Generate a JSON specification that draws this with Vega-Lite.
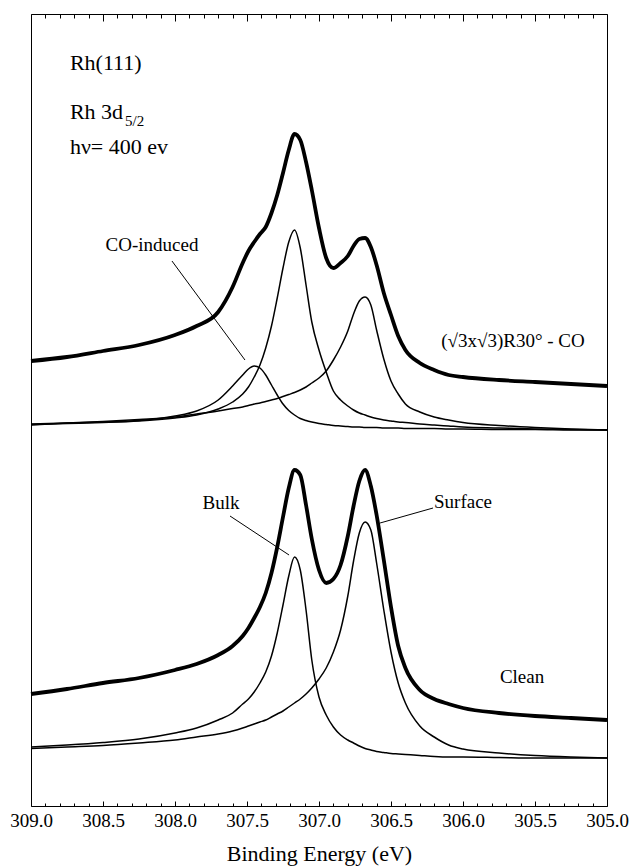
{
  "$schema": "https://vega.github.io/schema/vega-lite/v6.json",
  "width": 576,
  "height": 792,
  "autosize": {"type": "none"},
  "padding": {"left": 31, "top": 14, "right": 23, "bottom": 61},
  "background": "white",
  "config": {"view": {"stroke": "black", "strokeWidth": 1}, "font": "Liberation Serif"},
  "datasets": {
    "spec": [
      {"E":309.0,"coData":436,"coBulk":372.5,"coCO":373,"coSurf":372,"clData":103,"clBulk":50,"clSurf":48.5},
      {"E":308.75,"coData":440,"coBulk":373.5,"coCO":374,"coSurf":374,"clData":108,"clBulk":52,"clSurf":50},
      {"E":308.5,"coData":446,"coBulk":374.5,"coCO":375,"coSurf":375.5,"clData":114,"clBulk":54.5,"clSurf":51.5},
      {"E":308.25,"coData":452,"coBulk":376,"coCO":376.5,"coSurf":377.5,"clData":119,"clBulk":58,"clSurf":54},
      {"E":308.0,"coData":462,"coBulk":379,"coCO":381,"coSurf":380,"clData":127,"clBulk":64,"clSurf":57},
      {"E":307.85,"coData":471,"coBulk":382,"coCO":386,"coSurf":383,"clData":133,"clBulk":69,"clSurf":60},
      {"E":307.7,"coData":485,"coBulk":388,"coCO":397,"coSurf":386,"clData":142,"clBulk":77,"clSurf":63},
      {"E":307.6,"coData":510,"coBulk":395,"coCO":411,"coSurf":388.5,"clData":151,"clBulk":84,"clSurf":66},
      {"E":307.53,"coData":534,"coBulk":403,"coCO":422,"coSurf":390,"clData":161,"clBulk":93,"clSurf":69},
      {"E":307.49,"coData":546,"coBulk":410,"coCO":428,"coSurf":391.5,"clData":169,"clBulk":98,"clSurf":71},
      {"E":307.45,"coData":555,"coBulk":420,"coCO":431,"coSurf":393,"clData":179,"clBulk":105,"clSurf":73},
      {"E":307.41,"coData":563,"coBulk":432,"coCO":429,"coSurf":394,"clData":190,"clBulk":114,"clSurf":75},
      {"E":307.37,"coData":570,"coBulk":449,"coCO":422,"coSurf":395.5,"clData":204,"clBulk":125,"clSurf":77},
      {"E":307.33,"coData":584,"coBulk":471,"coCO":412,"coSurf":397,"clData":224,"clBulk":141,"clSurf":80},
      {"E":307.29,"coData":602,"coBulk":499,"coCO":402,"coSurf":398.5,"clData":250,"clBulk":164,"clSurf":83},
      {"E":307.25,"coData":624,"coBulk":529,"coCO":393,"coSurf":400.5,"clData":280,"clBulk":192,"clSurf":86},
      {"E":307.21,"coData":647,"coBulk":555,"coCO":386.5,"coSurf":402.5,"clData":309,"clBulk":221,"clSurf":90},
      {"E":307.17,"coData":663,"coBulk":567,"coCO":382,"coSurf":404.5,"clData":327,"clBulk":240,"clSurf":94},
      {"E":307.13,"coData":657,"coBulk":549,"coCO":378.5,"coSurf":407,"clData":322,"clBulk":227,"clSurf":98},
      {"E":307.09,"coData":635,"coBulk":512,"coCO":376.5,"coSurf":410,"clData":292,"clBulk":187,"clSurf":103},
      {"E":307.05,"coData":607,"coBulk":475,"coCO":375,"coSurf":414,"clData":258,"clBulk":137,"clSurf":109},
      {"E":307.0,"coData":569,"coBulk":447,"coCO":373.5,"coSurf":419,"clData":227,"clBulk":100,"clSurf":118},
      {"E":306.95,"coData":539,"coBulk":425,"coCO":372.5,"coSurf":426,"clData":214,"clBulk":82,"clSurf":129},
      {"E":306.9,"coData":529,"coBulk":406,"coCO":371.5,"coSurf":437,"clData":218,"clBulk":70,"clSurf":145},
      {"E":306.85,"coData":534,"coBulk":397,"coCO":371,"coSurf":450,"clData":232,"clBulk":62,"clSurf":167},
      {"E":306.8,"coData":541,"coBulk":391,"coCO":370.5,"coSurf":466,"clData":261,"clBulk":57,"clSurf":201},
      {"E":306.76,"coData":551,"coBulk":387,"coCO":370,"coSurf":483,"clData":291,"clBulk":54,"clSurf":236},
      {"E":306.72,"coData":558,"coBulk":384,"coCO":370,"coSurf":496,"clData":316,"clBulk":51,"clSurf":264},
      {"E":306.68,"coData":559,"coBulk":382,"coCO":369.5,"coSurf":500,"clData":327,"clBulk":48.5,"clSurf":275},
      {"E":306.64,"coData":550,"coBulk":380,"coCO":369.5,"coSurf":492,"clData":311,"clBulk":47,"clSurf":267},
      {"E":306.6,"coData":532,"coBulk":378.5,"coCO":369.5,"coSurf":467,"clData":282,"clBulk":45.5,"clSurf":234},
      {"E":306.55,"coData":504,"coBulk":377,"coCO":369,"coSurf":438,"clData":237,"clBulk":44.5,"clSurf":187},
      {"E":306.5,"coData":482,"coBulk":376,"coCO":369,"coSurf":416,"clData":190,"clBulk":43.5,"clSurf":145},
      {"E":306.45,"coData":461,"coBulk":375,"coCO":369,"coSurf":403,"clData":151,"clBulk":43,"clSurf":114},
      {"E":306.4,"coData":447,"coBulk":374.5,"coCO":368.5,"coSurf":393,"clData":129,"clBulk":42.5,"clSurf":94},
      {"E":306.3,"coData":434,"coBulk":373,"coCO":368.5,"coSurf":385,"clData":107,"clBulk":41.5,"clSurf":71},
      {"E":306.2,"coData":427,"coBulk":372,"coCO":368.5,"coSurf":380,"clData":98,"clBulk":40.5,"clSurf":60},
      {"E":306.1,"coData":422,"coBulk":371,"coCO":368,"coSurf":377,"clData":93,"clBulk":40,"clSurf":52},
      {"E":306.0,"coData":420,"coBulk":370,"coCO":368,"coSurf":374.5,"clData":89,"clBulk":40,"clSurf":48},
      {"E":305.75,"coData":417,"coBulk":369,"coCO":367.5,"coSurf":371.5,"clData":84,"clBulk":39.5,"clSurf":44},
      {"E":305.5,"coData":415,"coBulk":368,"coCO":367.5,"coSurf":369.5,"clData":81,"clBulk":39,"clSurf":41.5},
      {"E":305.25,"coData":413,"coBulk":367.5,"coCO":367,"coSurf":368,"clData":79,"clBulk":39,"clSurf":40},
      {"E":305.0,"coData":411,"coBulk":367,"coCO":367,"coSurf":367,"clData":77,"clBulk":39,"clSurf":39}
    ],
    "bigText": [
      {"t":"Rh(111)","E":308.73,"h":727},
      {"t":"Rh 3d","E":308.73,"h":678},
      {"t":"hν= 400 ev","E":308.73,"h":643}
    ],
    "subText": [
      {"t":"5/2","E":308.347,"h":671}
    ],
    "medText": [
      {"t":"CO-induced","E":308.16,"h":552},
      {"t":"(√3x√3)R30° - CO","E":305.653,"h":456},
      {"t":"Bulk","E":307.681,"h":294},
      {"t":"Surface","E":306.0,"h":295},
      {"t":"Clean","E":305.59,"h":120}
    ],
    "leaders": [
      {"E1":308.021,"h1":536,"E2":307.514,"h2":437},
      {"E1":307.618,"h1":281,"E2":307.208,"h2":242},
      {"E1":306.208,"h1":289,"E2":306.576,"h2":274}
    ]
  },
  "layer": [
    {
      "data": {"name": "spec"},
      "transform": [{"fold": ["coBulk","coCO","coSurf","clBulk","clSurf"], "as": ["series","h"]}],
      "mark": {"type": "line", "interpolate": "monotone", "strokeWidth": 1.5, "color": "black"},
      "encoding": {
        "x": {"field": "E", "type": "quantitative",
              "scale": {"domain": [305, 309], "reverse": true, "nice": false, "zero": false},
              "axis": {"orient": "bottom", "tickCount": 100,
                       "values": [305,305.1,305.2,305.3,305.4,305.5,305.6,305.7,305.8,305.9,306,306.1,306.2,306.3,306.4,306.5,306.6,306.7,306.8,306.9,307,307.1,307.2,307.3,307.4,307.5,307.6,307.7,307.8,307.9,308,308.1,308.2,308.3,308.4,308.5,308.6,308.7,308.8,308.9,309],
                       "labelExpr": "abs(datum.value*2 - round(datum.value*2)) < 0.001 ? format(datum.value, '.1f') : ''",
                       "labelFont": "Liberation Serif", "labelFontSize": 19, "labelColor": "black", "labelPadding": 5,
                       "labelFlush": false, "labelOverlap": false, "labelSeparation": -1000, "labelBound": false,
                       "ticks": false, "domain": false,
                       "grid": true, "gridColor": "black", "gridOpacity": 1, "gridWidth": 1,
                       "gridDash": {"condition": {"test": "abs(datum.value*2 - round(datum.value*2)) < 0.001", "value": [7, 780, 5]}, "value": [4, 785, 3]},
                       "title": "Binding Energy (eV)", "titleFont": "Liberation Serif", "titleFontSize": 22,
                       "titleFontWeight": "normal", "titleColor": "black", "titlePadding": 13}},
        "y": {"field": "h", "type": "quantitative", "scale": {"domain": [-9, 783], "nice": false, "zero": false}, "axis": null},
        "detail": {"field": "series"},
        "order": {"field": "E", "sort": "descending"}
      }
    },
    {
      "data": {"name": "spec"},
      "transform": [{"fold": ["coData","clData"], "as": ["series","h"]}],
      "mark": {"type": "line", "interpolate": "monotone", "strokeWidth": 3.8, "color": "black"},
      "encoding": {
        "x": {"field": "E", "type": "quantitative"},
        "y": {"field": "h", "type": "quantitative"},
        "detail": {"field": "series"},
        "order": {"field": "E", "sort": "descending"}
      }
    },
    {
      "data": {"name": "leaders"},
      "mark": {"type": "rule", "strokeWidth": 1, "color": "black"},
      "encoding": {
        "x": {"field": "E1", "type": "quantitative"},
        "x2": {"field": "E2"},
        "y": {"field": "h1", "type": "quantitative"},
        "y2": {"field": "h2"}
      }
    },
    {
      "data": {"name": "bigText"},
      "mark": {"type": "text", "font": "Liberation Serif", "fontSize": 22, "align": "left", "baseline": "alphabetic", "color": "black"},
      "encoding": {
        "x": {"field": "E", "type": "quantitative"},
        "y": {"field": "h", "type": "quantitative"},
        "text": {"field": "t"}
      }
    },
    {
      "data": {"name": "medText"},
      "mark": {"type": "text", "font": "Liberation Serif", "fontSize": 19, "align": "center", "baseline": "middle", "color": "black"},
      "encoding": {
        "x": {"field": "E", "type": "quantitative"},
        "y": {"field": "h", "type": "quantitative"},
        "text": {"field": "t"}
      }
    },
    {
      "data": {"name": "subText"},
      "mark": {"type": "text", "font": "Liberation Serif", "fontSize": 15, "align": "left", "baseline": "alphabetic", "color": "black"},
      "encoding": {
        "x": {"field": "E", "type": "quantitative"},
        "y": {"field": "h", "type": "quantitative"},
        "text": {"field": "t"}
      }
    }
  ]
}
